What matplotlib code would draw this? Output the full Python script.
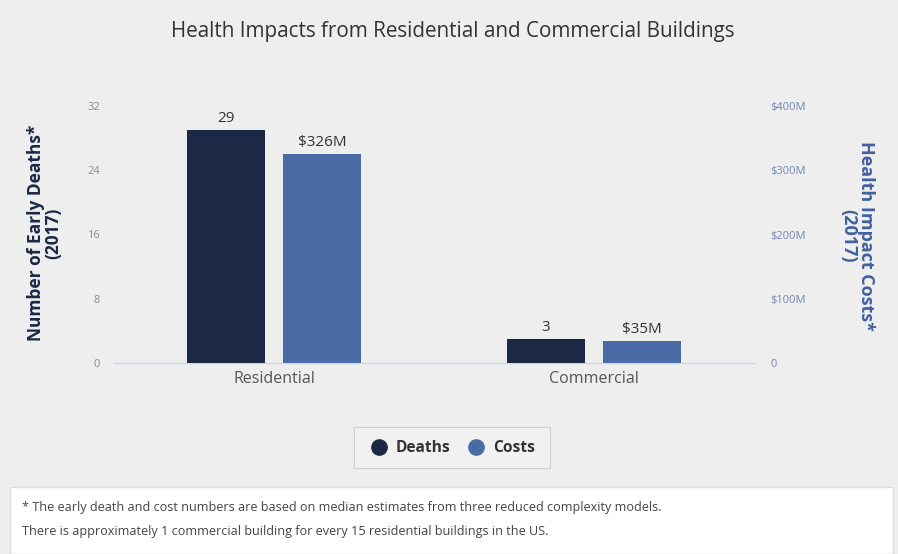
import matplotlib
matplotlib.use("Agg")
import matplotlib.pyplot as plt
from matplotlib.patches import Rectangle
from matplotlib.lines import Line2D
import numpy as np

plt.rcParams['font.family'] = ['Open Sans', 'DejaVu Sans']

categories = ["Residential", "Commercial"]
deaths = [29, 3]
costs = [326, 35]  # $M
left_ticks = [0, 8, 16, 24, 32]
right_ticks = [0, 100, 200, 300, 400]
right_tick_labels = ["0", "$100M", "$200M", "$300M", "$400M"]
title = "Health Impacts from Residential and Commercial Buildings"
footnotes = ["* The early death and cost numbers are based on median estimates from three reduced complexity models.",
             "There is approximately 1 commercial building for every 15 residential buildings in the US."]

W, H = 898, 554
fig = plt.figure(figsize=(W/100, H/100), dpi=100, facecolor="#eeeeee")

# footer panel
fig.patches.append(Rectangle((10/W, 0), 883/W, (H-487)/H, transform=fig.transFigure,
                             facecolor="white", edgecolor="#dddddd", lw=1, zorder=0))

ax = fig.add_axes([114/W, 1-363/H, 640/W, 257/H])
ax.set_facecolor("none")
ax2 = ax.twinx()

c_deaths = "#1b2846"
c_costs = "#4a6ca6"
x = np.arange(len(categories))
bw = 0.244
off = 0.15

ax.bar(x - off, deaths, bw, color=c_deaths, zorder=3)
ax2.bar(x + off, costs, bw, color=c_costs, zorder=3)

ax.set_xlim(-0.5, 1.5)
ax.set_ylim(0, 32)
ax2.set_ylim(0, 400)
ax.set_yticks(left_ticks)
ax.set_yticklabels([str(t) for t in left_ticks])
ax2.set_yticks(right_ticks)
ax2.set_yticklabels(right_tick_labels)

for a in (ax, ax2):
    for s in a.spines.values():
        s.set_visible(False)
ax.spines['bottom'].set_visible(True)
ax.spines['bottom'].set_color("#ccd6eb")
ax.spines['bottom'].set_linewidth(1)

ax.tick_params(axis='y', length=0, labelsize=8, labelcolor="#8a8a8a", pad=10)
ax2.tick_params(axis='y', length=0, labelsize=8, labelcolor="#7585b5", pad=12)
ax.set_xticks(x)
ax.set_xticklabels(categories)
ax.tick_params(axis='x', length=0, labelsize=11.5, labelcolor="#555555", pad=6)

for xi, v in zip(x, deaths):
    ax.text(xi - off, v + 0.5, str(v), ha='center', va='bottom', fontsize=11, color="#333333", zorder=5)
for xi, v in zip(x, costs):
    ax2.text(xi + off, v + 6, f"${v}M", ha='center', va='bottom', fontsize=11, color="#333333", zorder=5)

fig.text(453/W, 1-32/H, title, ha='center', va='center', fontsize=14.9, color="#333333")

fig.text(45/W, 1-233/H, "Number of Early Deaths*\n(2017)", rotation=90, ha='center', va='center',
         fontsize=12.5, fontweight='bold', color=c_deaths, linespacing=0.95)
fig.text(857/W, 1-236/H, "Health Impact Costs*\n(2017)", rotation=-90, ha='center', va='center',
         fontsize=13, fontweight='bold', color="#41609e", linespacing=0.95)

# legend
fig.patches.append(Rectangle((354/W, 1-468/H), 196/W, 41/H, transform=fig.transFigure,
                             facecolor="#f1f1f1", edgecolor="#d0d0d0", lw=0.8, zorder=1))
handles = [Line2D([], [], marker='o', ls='none', markersize=11, color=c_deaths),
           Line2D([], [], marker='o', ls='none', markersize=11, color=c_costs)]
leg = fig.legend(handles, ["Deaths", "Costs"], loc='center', bbox_to_anchor=(453/W, 1-448/H),
                 ncol=2, frameon=False, handletextpad=0.55, columnspacing=1.2, handlelength=1.0,
                 prop={'size': 11.2, 'weight': 'bold'})
for t in leg.get_texts():
    t.set_color("#333333")

fig.text(22/W, 1-508/H, footnotes[0], ha='left', va='center', fontsize=9.1, color="#444444")
fig.text(22/W, 1-532/H, footnotes[1], ha='left', va='center', fontsize=9.1, color="#444444")

fig.savefig("out.png", dpi=100, facecolor=fig.get_facecolor())
